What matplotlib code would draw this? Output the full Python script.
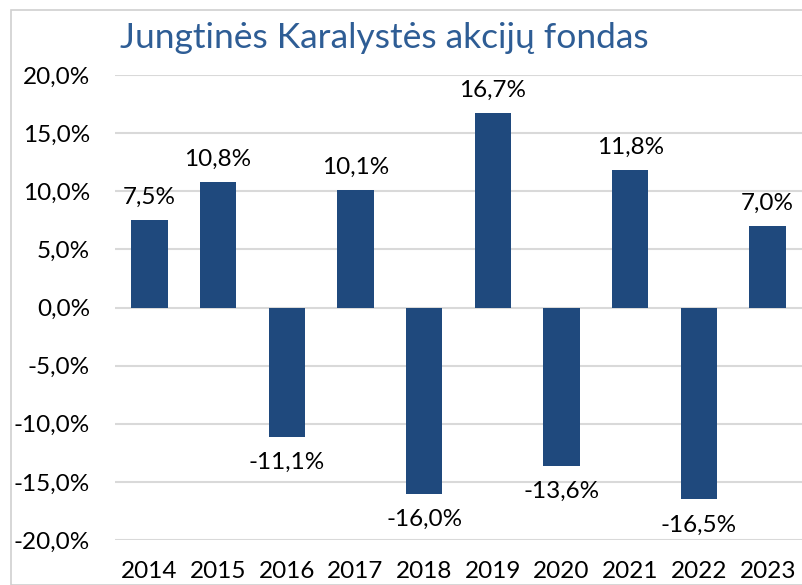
import matplotlib.pyplot as plt
from matplotlib.patches import Rectangle

years = ['2014', '2015', '2016', '2017', '2018', '2019', '2020', '2021', '2022', '2023']
returns = [7.5, 10.8, -11.1, 10.1, -16.0, 16.7, -13.6, 11.8, -16.5, 7.0]
y_ticks = [-20, -15, -10, -5, 0, 5, 10, 15, 20]

BAR = '#1F497D'
plt.rcParams['font.family'] = ['Lato', 'DejaVu Sans']

fig = plt.figure(figsize=(8.02, 5.85), dpi=100)
fig.patches.append(Rectangle((11 / 802, 0), 1, 1 - 10 / 585, transform=fig.transFigure,
                             fill=False, edgecolor='#D0D0D0', linewidth=1.2))
ax = fig.add_axes([115 / 802, 45 / 585, 687 / 802, 465 / 585])

x = range(len(years))
ax.bar(x, returns, width=0.53, color=BAR, zorder=3)

for i, v in enumerate(returns):
    label = f'{v:.1f}%'.replace('.', ',')
    if v >= 0:
        ax.annotate(label, (i, v), xytext=(0, 9), textcoords='offset points',
                    ha='center', va='bottom', fontsize=17.5)
    else:
        ax.annotate(label, (i, v), xytext=(0, -11), textcoords='offset points',
                    ha='center', va='top', fontsize=17.5)

ax.set_xlim(-0.5, len(years) - 0.5)
ax.set_ylim(-20, 20)
ax.set_yticks(y_ticks)
ax.set_yticklabels([f'{t:.1f}%'.replace('.', ',') for t in y_ticks], fontsize=17.5)
ax.set_xticks(list(x))
ax.set_xticklabels(years, fontsize=17.5)
ax.tick_params(length=0)
ax.tick_params(axis='y', pad=18)
ax.tick_params(axis='x', pad=15)
ax.grid(axis='y', color='#D9D9D9', linewidth=1.5, zorder=0)
for s in ax.spines.values():
    s.set_visible(False)

fig.text(120 / 802, 1 - 38 / 585, 'Jungtinės Karalystės akcijų fondas', color='#2E5D95',
         fontsize=25.5, ha='left', va='center')

fig.savefig('out.png', dpi=100)
